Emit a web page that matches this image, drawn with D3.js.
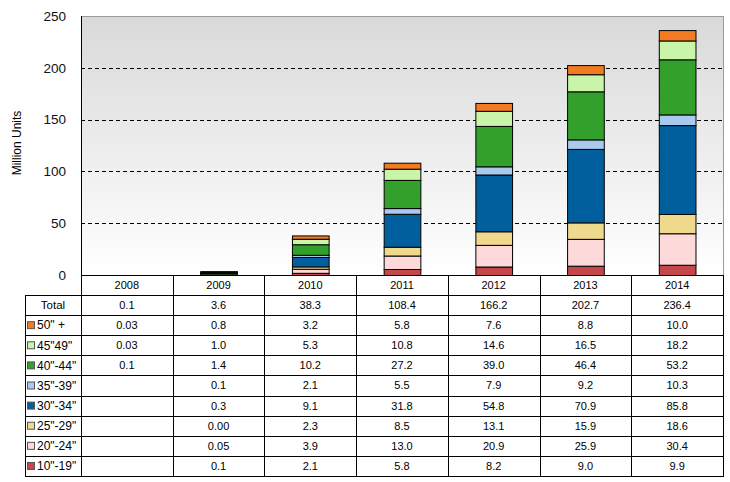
<!DOCTYPE html>
<html><head><meta charset="utf-8">
<script src="https://cdn.jsdelivr.net/npm/d3@7"></script>
<style>
body{margin:0;background:#fff;}
svg{display:block;font-family:"Liberation Sans",Arial,sans-serif;}
</style></head>
<body><svg id="c" width="730" height="482"></svg>
<script>
const years = ["2008","2009","2010","2011","2012","2013","2014"];
const totals = ["0.1","3.6","38.3","108.4","166.2","202.7","236.4"];
const seriesNames = ['50" +','45"49"','40"-44"','35"-39"','30"-34"','25"-29"','20"-24"','10"-19"'];
const seriesColors = ["#f27b22","#c8f5a8","#33a02c","#a9c9ee","#005f9c","#efd98c","#fdd9d9","#c5474b"];
const s50 = ["0.03","0.8","3.2","5.8","7.6","8.8","10.0"];
const s45 = ["0.03","1.0","5.3","10.8","14.6","16.5","18.2"];
const s40 = ["0.1","1.4","10.2","27.2","39.0","46.4","53.2"];
const s35 = ["","0.1","2.1","5.5","7.9","9.2","10.3"];
const s30 = ["","0.3","9.1","31.8","54.8","70.9","85.8"];
const s25 = ["","0.00","2.3","8.5","13.1","15.9","18.6"];
const s20 = ["","0.05","3.9","13.0","20.9","25.9","30.4"];
const s10 = ["","0.1","2.1","5.8","8.2","9.0","9.9"];
const seriesVals = [s50,s45,s40,s35,s30,s25,s20,s10];
const yTicks = [0,50,100,150,200,250];

const svg = d3.select("#c");
const L=81, R=723, T=16, B=275, tableLeft=25, tableBottom=476;
const x = d3.scaleBand().domain(years).range([L,R]).paddingInner(0).paddingOuter(0);
const y = d3.scaleLinear().domain([0,250]).range([B,T]);

// background gradient
const defs = svg.append("defs");
const g = defs.append("linearGradient").attr("id","bg").attr("x1",0).attr("y1",0).attr("x2",0).attr("y2",1);
g.append("stop").attr("offset","0%").attr("stop-color","#d9d9d9");
g.append("stop").attr("offset","100%").attr("stop-color","#ffffff");
svg.append("rect").attr("x",L).attr("y",T).attr("width",R-L).attr("height",B-T).attr("fill","url(#bg)");

// gridlines
svg.append("g").selectAll("line").data(yTicks.filter(d=>d>0&&d<250)).join("line")
  .attr("x1",L).attr("x2",R).attr("y1",d=>Math.round(y(d))+0.5).attr("y2",d=>Math.round(y(d))+0.5)
  .attr("stroke","#000").attr("stroke-dasharray","4,3").attr("stroke-width",1);

// frame top/right
svg.append("line").attr("x1",L).attr("x2",R).attr("y1",T+0.5).attr("y2",T+0.5).attr("stroke","#9a9a9a");
svg.append("line").attr("x1",R+0.5).attr("x2",R+0.5).attr("y1",T).attr("y2",B).attr("stroke","#9a9a9a");

// y labels
svg.append("g").selectAll("text").data(yTicks).join("text")
  .attr("x",66).attr("y",d=>y(d)).attr("dy","0.36em").attr("text-anchor","end")
  .attr("font-size",13.5).attr("fill","#111").text(d=>d);
svg.append("text").attr("transform","translate(17,143) rotate(-90)").attr("text-anchor","middle")
  .attr("dy","0.35em").attr("font-size",12).text("Million Units");

// stacked bars (bottom to top)
const order = [7,6,5,4,3,2,1,0];
const bw = x.bandwidth()*0.4;
years.forEach((yr,i)=>{
  const total = order.reduce((a,si)=>a+(+seriesVals[si][i]||0),0);
  const visible = (y(0)-y(total)) >= 1;
  let cum = 0;
  order.forEach(si=>{
    const v = +seriesVals[si][i] || 0;
    if (v<=0) return;
    const y0 = y(cum), y1 = y(cum+v);
    svg.append("rect").attr("x",x(yr)+x.bandwidth()/2-bw/2+0.5).attr("y",y1+0.5)
      .attr("width",bw).attr("height",Math.max(0,y0-y1))
      .attr("fill",seriesColors[si]).attr("stroke",visible?"#000":"none").attr("stroke-width",1);
    cum += v;
  });
});

// table
const hdrTop = B, hdrBot = 295;
const rowH = (tableBottom-hdrBot)/9;
const tg = svg.append("g");
tg.selectAll("text.h").data(years).join("text").attr("class","h")
  .attr("x",d=>x(d)+x.bandwidth()/2).attr("y",(hdrTop+hdrBot)/2).attr("dy","0.36em")
  .attr("text-anchor","middle").attr("font-size",11).text(d=>d);
const rows = [{name:"Total",vals:totals,color:null}].concat(seriesNames.map((n,i)=>({name:n,vals:seriesVals[i],color:seriesColors[i]})));
rows.forEach((r,ri)=>{
  const cy = hdrBot + rowH*ri + rowH/2;
  if (r.color===null){
    tg.append("text").attr("x",(tableLeft+L)/2).attr("y",cy).attr("dy","0.36em").attr("text-anchor","middle").attr("font-size",11.5).text(r.name);
  } else {
    tg.append("rect").attr("x",27.5).attr("y",cy-3.5).attr("width",7).attr("height",7).attr("fill",r.color).attr("stroke","#555").attr("stroke-width",1);
    tg.append("text").attr("x",37).attr("y",cy).attr("dy","0.36em").attr("font-size",12).text(r.name);
  }
  years.forEach((yr,i)=>{
    tg.append("text").attr("x",x(yr)+x.bandwidth()/2).attr("y",cy).attr("dy","0.36em")
      .attr("text-anchor","middle").attr("font-size",11).text(r.vals[i]);
  });
});
for (let k=0;k<=9;k++){
  const yy = Math.round(hdrBot + rowH*k)+0.5;
  tg.append("line").attr("x1",tableLeft).attr("x2",R+1).attr("y1",yy).attr("y2",yy).attr("stroke","#000");
}
tg.append("line").attr("x1",L).attr("x2",R+1).attr("y1",B+0.5).attr("y2",B+0.5).attr("stroke","#000");
years.forEach(yr=>{
  const xx = Math.round(x(yr)+x.bandwidth())+0.5;
  tg.append("line").attr("x1",xx).attr("x2",xx).attr("y1",B).attr("y2",tableBottom+0.5).attr("stroke","#000");
});
tg.append("line").attr("x1",tableLeft+0.5).attr("x2",tableLeft+0.5).attr("y1",hdrBot).attr("y2",tableBottom+0.5).attr("stroke","#000");
svg.append("line").attr("x1",L+0.5).attr("x2",L+0.5).attr("y1",T).attr("y2",tableBottom+0.5).attr("stroke","#000");
</script></body></html>
